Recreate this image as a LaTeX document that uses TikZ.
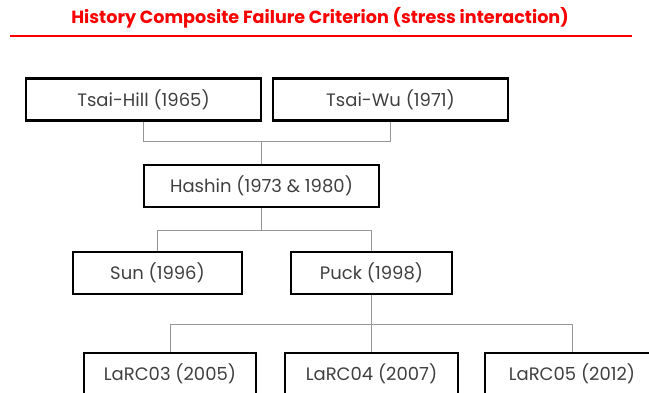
\documentclass[tikz,border=0pt]{standalone}
\usepackage{fontspec}
\setmainfont{Poppins}
\definecolor{titlered}{RGB}{250,0,0}
\definecolor{boxtext}{RGB}{64,64,64}
\definecolor{linkgray}{RGB}{150,150,150}

\begin{document}
\begin{tikzpicture}[x=1pt,y=-1pt,
    crit/.style={draw=black, line width=2.6pt, minimum height=42pt, inner sep=0pt,
        text=boxtext, font=\fontsize{18}{21}\selectfont},
    link/.style={draw=linkgray, line width=1pt}]
    \useasboundingbox (0,0) rectangle (649,393);
    % title
    \node[text=titlered, font=\fontsize{17.6}{20}\selectfont\bfseries] (title) at (320,18)
        {History Composite Failure Criterion (stress interaction)};
    \draw[titlered, line width=2pt] (10,36) -- (632,36);
    % criteria
    \node[crit, minimum width=235pt] (tsaihill) at (143.5,99.5) {Tsai-Hill (1965)};
    \node[crit, minimum width=235pt] (tsaiwu) at (390.5,99.5) {Tsai-Wu (1971)};
    \node[crit, minimum width=235pt] (hashin) at (261.5,186) {Hashin (1973 \& 1980)};
    \node[crit, minimum width=169pt] (sun) at (157.5,273) {Sun (1996)};
    \node[crit, minimum width=161pt] (puck) at (371.5,273) {Puck (1998)};
    \node[crit, minimum width=172pt] (larc03) at (170,374) {LaRC03 (2005)};
    \node[crit, minimum width=173pt] (larc04) at (371.5,374) {LaRC04 (2007)};
    \node[crit, minimum width=174pt] (larc05) at (572,374) {LaRC05 (2012)};
    % connectors
    \draw[link] (tsaihill.south) -- ++(0,20) -| (hashin.north);
    \draw[link] (tsaiwu.south) -- ++(0,20) -| (hashin.north);
    \draw[link] (hashin.south) -- ++(0,22) -| (sun.north);
    \draw[link] (hashin.south) -- ++(0,22) -| (puck.north);
    \draw[link] (puck.south) -- ++(0,29) -| (larc03.north);
    \draw[link] (puck.south) -- (larc04.north);
    \draw[link] (puck.south) -- ++(0,29) -| (larc05.north);
\end{tikzpicture}
\end{document}
